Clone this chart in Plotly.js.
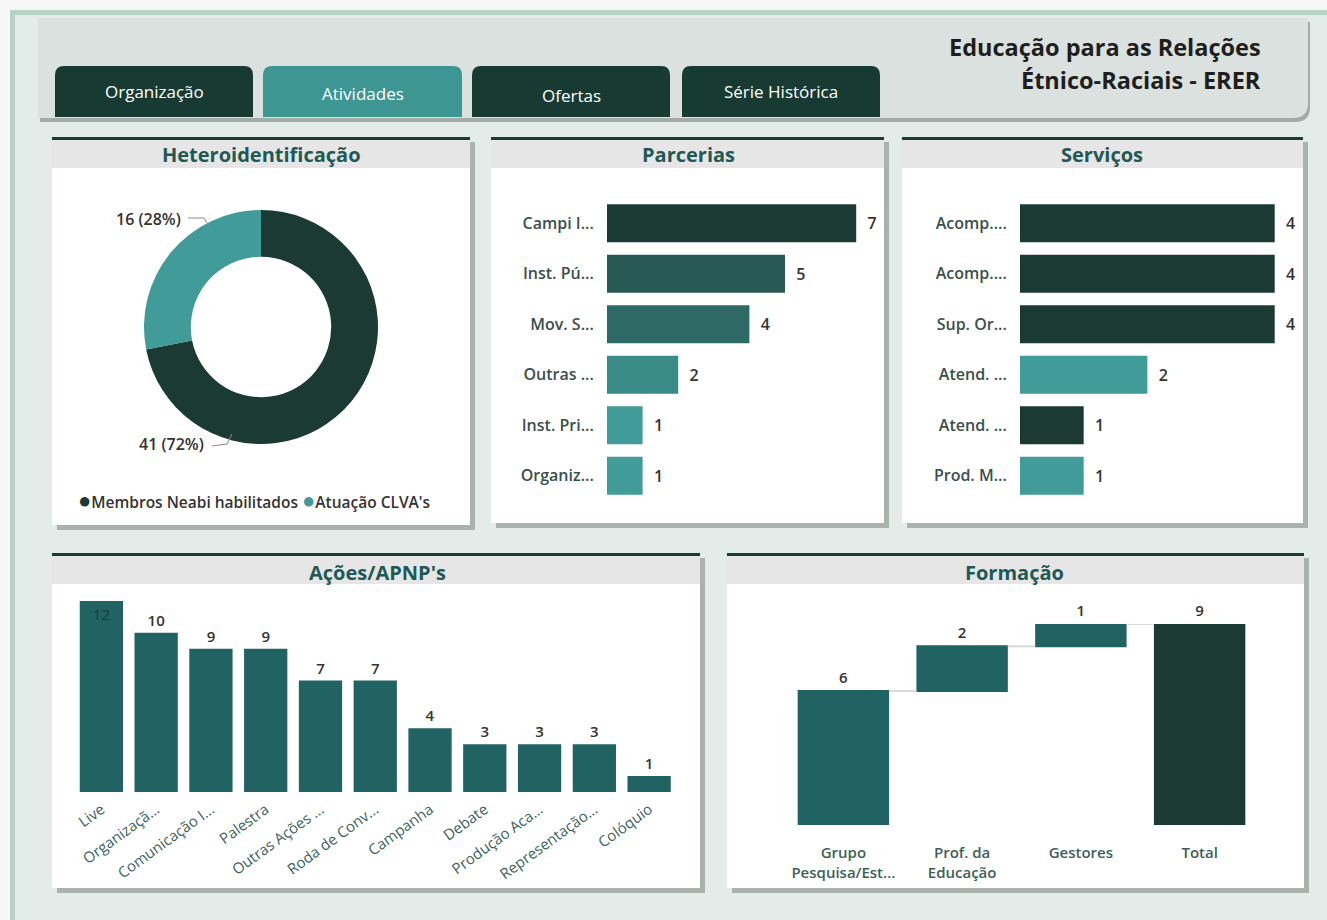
<!DOCTYPE html>
<html>
<head>
<meta charset="utf-8">
<script src="https://cdn.plot.ly/plotly-3.0.1.min.js"></script>
<style>html,body{margin:0;padding:0;background:#f6f8f7;}#chart{width:1327px;height:920px;}</style>
</head>
<body>
<div id="chart"></div>
<script>
// ---------- DATA ----------
const tabLabels = ["Organização", "Atividades", "Ofertas", "Série Histórica"];
const titleLines = ["Educação para as Relações", "Étnico-Raciais - ERER"];
const panelTitles = ["Heteroidentificação", "Parcerias", "Serviços", "Ações/APNP's", "Formação"];

const heteroLabels = ["Membros Neabi habilitados", "Atuação CLVA's"];
const heteroValues = [41, 16];

const parceriasLabels = ["Campi I...", "Inst. Pú...", "Mov. S...", "Outras ...", "Inst. Pri...", "Organiz..."];
const parceriasValues = [7, 5, 4, 2, 1, 1];

const servicosLabels = ["Acomp....", "Acomp....", "Sup. Or...", "Atend. ...", "Atend. ...", "Prod. M..."];
const servicosValues = [4, 4, 4, 2, 1, 1];

const acoesLabels = ["Live", "Organizaçã...", "Comunicação I...", "Palestra", "Outras Ações ...", "Roda de Conv...", "Campanha", "Debate", "Produção Aca...", "Representação...", "Colóquio"];
const acoesValues = [12, 10, 9, 9, 7, 7, 4, 3, 3, 3, 1];

const formacaoLabels = ["Grupo<br>Pesquisa/Est...", "Prof. da<br>Educação", "Gestores"];
const formacaoValues = [6, 2, 1];
const formacaoTotalLabel = "Total";

// ---------- HELPERS ----------
const W = 1327, H = 920;
const px = x => x / W;
const py = y => 1 - y / H;
const P = (x, y) => px(x) + "," + py(y);
const FAM = "Open Sans, sans-serif";
function rect(x0, y0, x1, y1, color) {
  return {type: "rect", xref: "paper", yref: "paper", x0: px(x0), x1: px(x1), y0: py(y1), y1: py(y0),
          fillcolor: color, line: {width: 0}, layer: "below"};
}
function path(d, color, lineColor, lw) {
  return {type: "path", xref: "paper", yref: "paper", path: d, fillcolor: color,
          line: {width: lw || 0, color: lineColor || "rgba(0,0,0,0)"}, layer: "below"};
}
function tabPath(x0, y0, x1, y1, r) {
  return "M" + P(x0, y1) + " L" + P(x0, y0 + r) + " Q" + P(x0, y0) + " " + P(x0 + r, y0) +
         " L" + P(x1 - r, y0) + " Q" + P(x1, y0) + " " + P(x1, y0 + r) + " L" + P(x1, y1) + " Z";
}
function ann(text, x, y, opts) {
  return Object.assign({text: text, x: px(x), y: py(y), xref: "paper", yref: "paper", showarrow: false,
    xanchor: "center", yanchor: "middle", font: {family: FAM, size: 14, color: "#333"}}, opts || {});
}
const pad = v => "\u00a0\u00a0" + v;

const DARK = "#1b3a34";
const TEAL = "#409b99";
const MID = "#216262";

// ---------- SHAPES ----------
const shapes = [];
shapes.push(rect(10, 10, 1327, 920, "#b7d3c4"));
shapes.push(rect(15, 15, 1327, 920, "#e3ece8"));
const hdr = (dx, dy) => "M" + P(38 + dx, 18 + dy) + " L" + P(1308 + dx, 18 + dy) + " L" + P(1308 + dx, 103 + dy) +
  " Q" + P(1308 + dx, 118 + dy) + " " + P(1293 + dx, 118 + dy) + " L" + P(38 + dx, 118 + dy) + " Z";
shapes.push(path(hdr(2, 4), "#a3aba7"));
shapes.push(path(hdr(0, 0), "#dae1de"));
const tabX = [[55, 253], [263, 462], [472, 670], [682, 880]];
const tabColors = ["#173a32", "#3d9692", "#173a32", "#173a32"];
tabX.forEach((t, i) => shapes.push(path(tabPath(t[0], 66, t[1], 117, 9), tabColors[i])));
const panels = [[52, 137, 470, 525], [491, 137, 884, 523], [902, 137, 1303, 523], [52, 553, 700, 888], [727, 553, 1304, 888]];
panels.forEach(p => {
  shapes.push(rect(p[0] + 5, p[1] + 5, p[2] + 5, p[3] + 5, "#aab2ae"));
  shapes.push(rect(p[0], p[1] + 3, p[2], p[3], "#ffffff"));
  shapes.push(rect(p[0], p[1] + 3, p[2], p[1] + 31, "#e6e6e6"));
  shapes.push(rect(p[0], p[1], p[2], p[1] + 3, "#1c3b35"));
});
shapes.push(Object.assign(path("M" + P(188, 218) + " L" + P(204, 218) + " L" + P(210, 228), "rgba(0,0,0,0)", "#8a8a8a", 1), {layer: "above"}));
shapes.push(Object.assign(path("M" + P(212, 446) + " L" + P(227, 444) + " L" + P(232, 434), "rgba(0,0,0,0)", "#8a8a8a", 1), {layer: "above"}));

// ---------- ANNOTATIONS ----------
const annotations = [];
const tabTextY = [92, 93, 95, 91];
tabLabels.forEach((t, i) => annotations.push(ann(t, (tabX[i][0] + tabX[i][1]) / 2, tabTextY[i],
  {font: {family: FAM, size: 17, color: "#ffffff"}})));
annotations.push(ann("<b>" + titleLines[0] + "</b>", 1263, 47, {xanchor: "right", font: {family: FAM, size: 23.5, color: "#1e1e1e"}}));
annotations.push(ann("<b>" + titleLines[1] + "</b>", 1263, 80, {xanchor: "right", font: {family: FAM, size: 23.5, color: "#1e1e1e"}}));
const titlePos = [[261, 155], [688, 155], [1102, 155], [377, 572], [1015, 572]];
panelTitles.forEach((t, i) => annotations.push(ann("<b>" + t + "</b>", titlePos[i][0], titlePos[i][1],
  {font: {family: FAM, size: 20, color: "#1f5955"}})));

const heteroTotal = heteroValues.reduce((a, b) => a + b, 0);
const heteroText = heteroValues.map(v => v + " (" + Math.round(v / heteroTotal * 100) + "%)");
annotations.push(ann(heteroText[1], 183, 219, {xanchor: "right", font: {family: FAM, size: 16, color: "#333", weight: 600}}));
annotations.push(ann(heteroText[0], 206, 444, {xanchor: "right", font: {family: FAM, size: 16, color: "#333", weight: 600}}));
annotations.push(ann('<span style="color:' + DARK + ';font-size:22px">●</span>' + heteroLabels[0] +
  ' <span style="color:' + TEAL + ';font-size:22px">●</span>' + heteroLabels[1], 76, 499,
  {xanchor: "left", font: {family: FAM, size: 15.5, color: "#333", weight: 600}}));

// ---------- TRACES ----------
const tickFont = {family: FAM, size: 16, color: "#3b504d", weight: 600};
const valFont = {family: FAM, size: 16, color: "#333", weight: 600};

const traces = [
  {type: "pie", values: heteroValues, labels: heteroLabels, hole: 0.6, sort: false, direction: "clockwise", rotation: 0,
   marker: {colors: [DARK, TEAL], line: {width: 0}}, textinfo: "none", showlegend: false,
   domain: {x: [px(144), px(378)], y: [py(444), py(210)]}},
  {type: "bar", orientation: "h", x: parceriasValues, y: parceriasLabels.map((_, i) => i), xaxis: "x", yaxis: "y",
   width: 0.75, marker: {color: ["#1b3a34", "#285955", "#2e6966", "#3a8b88", "#419b99", "#419b99"]},
   text: parceriasValues.map(pad), textposition: "outside", textfont: valFont, cliponaxis: false},
  {type: "bar", orientation: "h", x: servicosValues, y: servicosLabels.map((_, i) => i), xaxis: "x2", yaxis: "y2",
   width: 0.75, marker: {color: [DARK, DARK, DARK, TEAL, DARK, TEAL]},
   text: servicosValues.map(pad), textposition: "outside", textfont: valFont, cliponaxis: false},
  {type: "bar", x: acoesLabels, y: acoesValues, xaxis: "x3", yaxis: "y3", width: 0.79, marker: {color: MID},
   text: acoesValues.map(String), textangle: 0,
   textposition: acoesValues.map((v, i) => i === 0 ? "inside" : "outside"), insidetextanchor: "end",
   insidetextfont: {family: FAM, size: 15, color: "#1b3a36"},
   outsidetextfont: {family: FAM, size: 15, color: "#333", weight: 600}, cliponaxis: false},
  {type: "waterfall", x: formacaoLabels.concat([formacaoTotalLabel]), y: formacaoValues.concat([0]),
   measure: formacaoValues.map(() => "relative").concat(["total"]), xaxis: "x4", yaxis: "y4",
   increasing: {marker: {color: MID}}, totals: {marker: {color: DARK}},
   connector: {line: {color: "#d9d9d9", width: 2}},
   text: formacaoValues.map(String).concat([String(formacaoValues.reduce((a, b) => a + b, 0))]),
   textposition: "outside", textfont: {family: FAM, size: 15, color: "#333", weight: 600}, cliponaxis: false}
];

const hidden = {showgrid: false, zeroline: false, showticklabels: false, showline: false, fixedrange: true};
const layout = {
  width: W, height: H, margin: {l: 0, r: 0, t: 0, b: 0}, paper_bgcolor: "#f6f8f7", plot_bgcolor: "rgba(0,0,0,0)",
  showlegend: false, hovermode: false, waterfallgap: 0.23,
  font: {family: FAM},
  xaxis: Object.assign({}, hidden, {domain: [px(607), px(874)], range: [0, 7.5], anchor: "y"}),
  yaxis: Object.assign({}, hidden, {domain: [py(501), py(198)], range: [5.5, -0.5], anchor: "x", showticklabels: true,
    tickvals: parceriasLabels.map((_, i) => i), ticktext: parceriasLabels, tickfont: tickFont,
    ticks: "outside", ticklen: 9, tickcolor: "rgba(0,0,0,0)"}),
  xaxis2: Object.assign({}, hidden, {domain: [px(1020), px(1297)], range: [0, 4.35], anchor: "y2"}),
  yaxis2: Object.assign({}, hidden, {domain: [py(501), py(198)], range: [5.5, -0.5], anchor: "x2", showticklabels: true,
    tickvals: servicosLabels.map((_, i) => i), ticktext: servicosLabels, tickfont: tickFont,
    ticks: "outside", ticklen: 9, tickcolor: "rgba(0,0,0,0)"}),
  xaxis3: Object.assign({}, hidden, {domain: [px(74), px(676.5)], anchor: "y3", type: "category", showticklabels: true,
    tickangle: -36, tickfont: {family: FAM, size: 15, color: "#3d6360"},
    ticks: "outside", ticklen: 2, tickcolor: "rgba(0,0,0,0)"}),
  yaxis3: Object.assign({}, hidden, {domain: [py(792), py(601)], range: [0, 12], anchor: "x3"}),
  xaxis4: Object.assign({}, hidden, {domain: [px(784), px(1259)], anchor: "y4", type: "category", showticklabels: true,
    tickfont: {family: FAM, size: 15, color: "#3c5f5c", weight: 600},
    ticks: "outside", ticklen: 14, tickcolor: "rgba(0,0,0,0)"}),
  yaxis4: Object.assign({}, hidden, {domain: [py(825), py(624)], range: [0, 9], anchor: "x4"}),
  shapes: shapes, annotations: annotations
};

Plotly.newPlot("chart", traces, layout, {staticPlot: true, displayModeBar: false});
</script>
</body>
</html>
